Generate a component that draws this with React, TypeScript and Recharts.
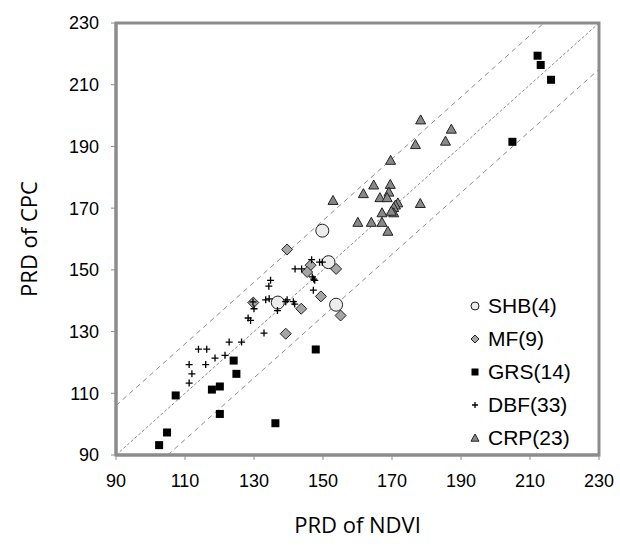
import { ScatterChart, Scatter, XAxis, YAxis, ReferenceLine, ReferenceArea, Legend } from 'recharts';

// values (PRD of NDVI, PRD of CPC)
const shb = [[149.8, 162.7], [151.6, 152.5], [153.8, 138.7], [136.9, 139.4]];
const mf = [
  [139.6, 156.6], [146.4, 151.5], [145.4, 149.3], [153.8, 150.3], [149.4, 141.4],
  [129.8, 139.4], [143.7, 137.4], [155.1, 135.2], [139.2, 129.3],
];
const grs = [
  [102.5, 93.2], [104.8, 97.3], [107.3, 109.3], [117.8, 111.2], [120.1, 112.2],
  [120.1, 103.3], [124.1, 120.6], [124.9, 116.3], [136.2, 100.3], [147.9, 124.2],
  [204.9, 191.5], [212.2, 219.4], [213.1, 216.4], [216.1, 211.6],
];
const dbf = [
  [111.2, 113.3], [112.0, 116.3], [111.2, 119.3], [113.9, 124.3], [116.3, 124.3],
  [116.0, 119.3], [118.7, 121.4], [121.6, 122.3], [122.8, 126.6], [126.4, 126.6],
  [146.7, 153.3], [149.0, 152.5], [149.8, 152.5], [141.9, 150.3], [143.8, 150.3],
  [146.9, 147.7], [147.6, 146.6], [134.8, 146.6], [134.3, 144.7], [147.2, 143.4],
  [129.7, 139.6], [130.0, 137.4], [133.4, 140.3], [134.4, 140.6], [136.8, 136.8],
  [139.2, 139.7], [141.4, 139.7], [141.8, 138.9], [128.3, 134.4], [129.0, 133.6],
  [132.9, 129.5], [147.3, 147.0], [139.6, 140.3],
];
const crp = [
  [178.3, 198.6], [187.2, 195.6], [185.5, 191.7], [176.8, 190.6], [169.6, 185.5],
  [164.7, 177.5], [169.5, 177.7], [169.1, 175.2], [161.7, 174.7], [166.5, 173.4],
  [168.6, 173.4], [152.9, 172.5], [171.7, 171.7], [171.0, 171.0], [170.5, 170.2],
  [178.2, 171.5], [170.5, 168.5], [167.1, 168.5], [160.1, 165.4], [164.0, 165.4],
  [167.1, 165.4], [168.8, 162.5], [169.8, 169.0],
];

const ticks = [90, 110, 130, 150, 170, 190, 210, 230];
const lo = 90;
const hi = 230;
// offsets of the dashed guide lines from the 1:1 line
const bandOffsets = [16, -15];

const toPts = (arr: number[][]) => arr.map(([x, y]) => ({ x, y }));

const Circle = ({ cx, cy, r = 6.5 }: any) => (
  <circle cx={cx} cy={cy} r={r} fill="#ececec" stroke="#222" strokeWidth={1} />
);
const Diamond = ({ cx, cy, s = 5.5 }: any) => (
  <path d={`M${cx},${cy - s}L${cx + s},${cy}L${cx},${cy + s}L${cx - s},${cy}Z`} fill="#a6a6a6" stroke="#222" strokeWidth={1} />
);
const Square = ({ cx, cy, s = 4 }: any) => (
  <rect x={cx - s} y={cy - s} width={s * 2} height={s * 2} fill="#000" />
);
const Plus = ({ cx, cy, s = 3.5 }: any) => (
  <path d={`M${cx - s},${cy}H${cx + s}M${cx},${cy - s}V${cy + s}`} stroke="#000" strokeWidth={1.3} fill="none" />
);
const Triangle = ({ cx, cy, s = 5 }: any) => (
  <path d={`M${cx},${cy - s}L${cx + s},${cy + s * 0.8}L${cx - s},${cy + s * 0.8}Z`} fill="#888" stroke="#222" strokeWidth={1} />
);

const series = [
  { name: 'SHB(4)', data: shb, Shape: Circle, small: { r: 4 } },
  { name: 'MF(9)', data: mf, Shape: Diamond, small: { s: 4 } },
  { name: 'GRS(14)', data: grs, Shape: Square, small: { s: 3.5 } },
  { name: 'DBF(33)', data: dbf, Shape: Plus, small: { s: 3 } },
  { name: 'CRP(23)', data: crp, Shape: Triangle, small: { s: 4 } },
];

const LegendBox = () => (
  <div style={{ fontFamily: '"Liberation Sans", Arial, sans-serif', fontSize: 21, color: '#000' }}>
    {series.map(({ name, Shape, small }) => (
      <div key={name} style={{ display: 'flex', alignItems: 'center', height: 33 }}>
        <svg width={14} height={14} style={{ marginRight: 6 }}>
          <Shape cx={7} cy={7} {...small} />
        </svg>
        <span>{name}</span>
      </div>
    ))}
  </div>
);

const tickStyle = { fontFamily: '"Liberation Sans", Arial, sans-serif', fontSize: 18, fill: '#000' };
const labelStyle = { fontFamily: '"Open Sans", sans-serif', fontSize: 22, fill: '#000', textAnchor: 'middle' as const };

export default function App() {
  return (
    <div style={{ position: 'absolute', left: 0, top: 0, background: '#fff' }}>
      <ScatterChart width={620} height={549} margin={{ top: 23, right: 21, bottom: 0, left: 0 }}>
        <XAxis
          type="number"
          dataKey="x"
          domain={[lo, hi]}
          ticks={ticks}
          allowDataOverflow
          height={94}
          tickSize={5}
          tickMargin={14}
          tick={tickStyle}
          tickLine={{ stroke: '#8c8c8c' }}
          axisLine={{ stroke: '#8c8c8c', strokeWidth: 3 }}
          label={{ value: 'PRD of NDVI', position: 'insideBottom', offset: 16, style: labelStyle }}
        />
        <YAxis
          type="number"
          dataKey="y"
          domain={[lo, hi]}
          ticks={ticks}
          allowDataOverflow
          width={116}
          tickSize={5}
          tickMargin={12}
          tick={tickStyle}
          tickLine={{ stroke: '#8c8c8c' }}
          axisLine={{ stroke: '#8c8c8c', strokeWidth: 3 }}
          label={{ value: 'PRD of CPC', angle: -90, position: 'insideLeft', offset: 29, style: labelStyle }}
        />
        <ReferenceArea x1={lo} x2={hi} y1={lo} y2={hi} fill="none" stroke="#8c8c8c" strokeWidth={3} fillOpacity={0} />
        <ReferenceLine
          segment={[{ x: lo, y: lo }, { x: hi, y: hi }]}
          stroke="#8c8c8c"
          strokeDasharray="3 2"
          strokeWidth={1}
        />
        {bandOffsets.map((d) => (
          <ReferenceLine
            key={d}
            segment={[
              { x: d > 0 ? lo : lo - d, y: d > 0 ? lo + d : lo },
              { x: d > 0 ? hi - d : hi, y: d > 0 ? hi : hi + d },
            ]}
            stroke="#8c8c8c"
            strokeDasharray="5 4"
            strokeWidth={1}
          />
        ))}
        {series.map(({ name, data, Shape }) => (
          <Scatter key={name} name={name} data={toPts(data)} isAnimationActive={false} shape={(p: any) => <Shape cx={p.cx} cy={p.cy} />} />
        ))}
        <Legend
          layout="vertical"
          align="center"
          verticalAlign="middle"
          content={() => <LegendBox />}
          wrapperStyle={{ position: 'absolute', left: 468, top: 289, width: 'auto', height: 'auto' }}
        />
      </ScatterChart>
    </div>
  );
}
